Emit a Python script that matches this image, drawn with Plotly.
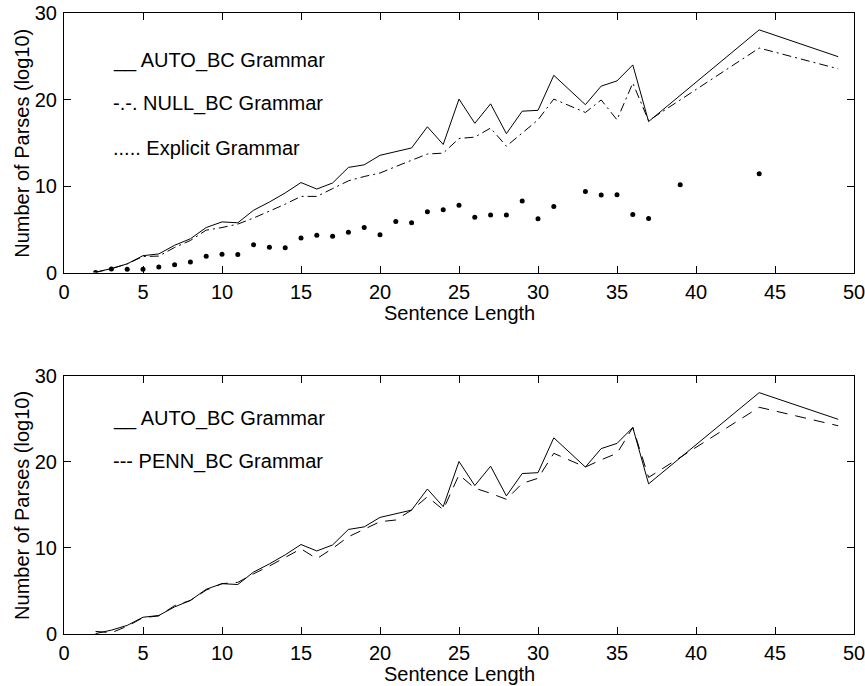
import plotly.graph_objects as go

# ---------------- data ----------------
x_lines = [2, 3, 4, 5, 6, 7, 8, 9, 10, 11, 12, 13, 14, 15, 16, 17, 18, 19, 20,
           21, 22, 23, 24, 25, 26, 27, 28, 29, 30, 31, 33, 34, 35, 36, 37, 44, 49]
auto_bc = [0.05, 0.45, 1.0, 1.95, 2.15, 3.15, 3.9, 5.2, 5.85, 5.75, 7.2, 8.15, 9.2, 10.4,
           9.65, 10.35, 12.15, 12.45, 13.55, 14.0, 14.4, 16.85, 14.8, 20.05, 17.25, 19.5,
           16.05, 18.65, 18.75, 22.8, 19.4, 21.55, 22.15, 24.0, 17.45, 28.05, 24.95]
null_bc = [0.0, 0.45, 1.0, 1.85, 1.9, 2.9, 3.7, 4.9, 5.2, 5.6, 6.3, 7.1, 7.9, 8.8,
           8.8, 9.7, 10.6, 11.1, 11.5, 12.25, 13.0, 13.7, 13.8, 15.5, 15.65, 16.7,
           14.6, 16.1, 17.65, 20.05, 18.5, 19.95, 17.65, 21.9, 17.55, 25.95, 23.55]
penn_bc = [0.3, 0.15, 0.9, 1.9, 2.1, 3.3, 3.9, 5.1, 5.85, 6.0, 7.0, 7.9, 8.9, 9.9,
           8.75, 9.95, 11.3, 12.15, 13.05, 13.25, 14.4, 15.95, 14.45, 18.5, 16.95, 16.35,
           15.65, 17.5, 18.1, 21.0, 19.4, 20.25, 21.0, 24.0, 18.2, 26.35, 24.2]

x_explicit = [2, 3, 4, 5, 6, 7, 8, 9, 10, 11, 12, 13, 14, 15, 16, 17, 18, 19, 20,
              21, 22, 23, 24, 25, 26, 27, 28, 29, 30, 31, 33, 34, 35, 36, 37, 39, 44]
explicit = [0.0, 0.4, 0.37, 0.37, 0.64, 0.89, 1.22, 1.89, 2.12, 2.08, 3.2, 2.93, 2.85,
            4.0, 4.3, 4.2, 4.67, 5.2, 4.36, 5.9, 5.75, 7.02, 7.25, 7.79, 6.4, 6.64,
            6.64, 8.26, 6.21, 7.63, 9.37, 8.97, 8.99, 6.71, 6.25, 10.14, 11.41]

x_ticks = [0, 5, 10, 15, 20, 25, 30, 35, 40, 45, 50]
y_ticks = [0, 10, 20, 30]

legend_top = ["__ AUTO_BC Grammar", "-.-. NULL_BC Grammar", "..... Explicit Grammar"]
legend_top_y = [24.5, 19.5, 14.4]
legend_bottom = ["__ AUTO_BC Grammar", "--- PENN_BC Grammar"]
legend_bottom_y = [25.0, 20.0]

# ---------------- figure ----------------
W, H = 865, 686
L, R, T, B = 64, 853.7, 13.3, 634      # plot area in pixels
PW, PH = R - L, B - T
FONT = "Liberation Sans, Arial, Helvetica, sans-serif"
FS = 20


def px(xp):
    return (xp - L) / PW


def py(yp):
    return (B - yp) / PH


fig = go.Figure()

fig.add_trace(go.Scatter(x=x_lines, y=auto_bc, mode="lines",
                         line=dict(color="black", width=1),
                         xaxis="x", yaxis="y", showlegend=False))
fig.add_trace(go.Scatter(x=x_lines, y=null_bc, mode="lines",
                         line=dict(color="black", width=1, dash="9px,4px,2px,4px"),
                         xaxis="x", yaxis="y", showlegend=False))
fig.add_trace(go.Scatter(x=x_explicit, y=explicit, mode="markers",
                         marker=dict(color="black", size=5),
                         xaxis="x", yaxis="y", showlegend=False))

fig.add_trace(go.Scatter(x=x_lines, y=auto_bc, mode="lines",
                         line=dict(color="black", width=1),
                         xaxis="x2", yaxis="y2", showlegend=False))
fig.add_trace(go.Scatter(x=x_lines, y=penn_bc, mode="lines",
                         line=dict(color="black", width=1, dash="11px,8px"),
                         xaxis="x2", yaxis="y2", showlegend=False))

top_dom = [py(272.7), 1]
bot_dom = [0, py(376)]

axis_common = dict(showgrid=False, zeroline=False, showline=True, linecolor="black",
                   linewidth=1, mirror="ticks", ticks="inside", ticklen=7,
                   tickcolor="black", tickwidth=1, automargin=False,
                   ticklabeloverflow="allow",
                   tickfont=dict(family=FONT, size=FS, color="black"))

fig.update_layout(
    template="none",
    width=W, height=H,
    margin=dict(l=L, r=W - R, t=T, b=H - B, pad=0),
    paper_bgcolor="white", plot_bgcolor="white",
    font=dict(family=FONT, size=FS, color="black"),
    xaxis=dict(domain=[0, 1], anchor="y", range=[0, 50], tickvals=x_ticks,
               ticklabelstandoff=1, **axis_common),
    yaxis=dict(domain=top_dom, anchor="x", range=[0, 30], tickvals=y_ticks,
               ticklabelstandoff=2, **axis_common),
    xaxis2=dict(domain=[0, 1], anchor="y2", range=[0, 50], tickvals=x_ticks,
                ticklabelstandoff=1, **axis_common),
    yaxis2=dict(domain=bot_dom, anchor="x2", range=[0, 30], tickvals=y_ticks,
                ticklabelstandoff=2, **axis_common),
)

annos = []
for txt, yv in zip(legend_top, legend_top_y):
    annos.append(dict(x=3, y=yv, xref="x", yref="y", text=txt, showarrow=False,
                      xanchor="left", yanchor="middle", font=dict(size=FS)))
for txt, yv in zip(legend_bottom, legend_bottom_y):
    annos.append(dict(x=3, y=yv, xref="x2", yref="y2", text=txt, showarrow=False,
                      xanchor="left", yanchor="middle", font=dict(size=FS)))

xc = px((L + R) / 2)
annos.append(dict(x=xc, y=py(313), xref="paper", yref="paper", text="Sentence Length",
                  showarrow=False, xanchor="center", yanchor="middle", font=dict(size=FS)))
annos.append(dict(x=xc, y=py(674), xref="paper", yref="paper", text="Sentence Length",
                  showarrow=False, xanchor="center", yanchor="middle", font=dict(size=FS)))
annos.append(dict(x=px(22), y=py(143), xref="paper", yref="paper",
                  text="Number of Parses (log10)", textangle=-90,
                  showarrow=False, xanchor="center", yanchor="middle", font=dict(size=FS)))
annos.append(dict(x=px(22), y=py(505), xref="paper", yref="paper",
                  text="Number of Parses (log10)", textangle=-90,
                  showarrow=False, xanchor="center", yanchor="middle", font=dict(size=FS)))
fig.update_layout(annotations=annos)

fig.write_html("out.html",
               config={"displayModeBar": False},
               post_script="document.body.style.margin='0';"
                           "document.body.style.overflow='hidden';")
